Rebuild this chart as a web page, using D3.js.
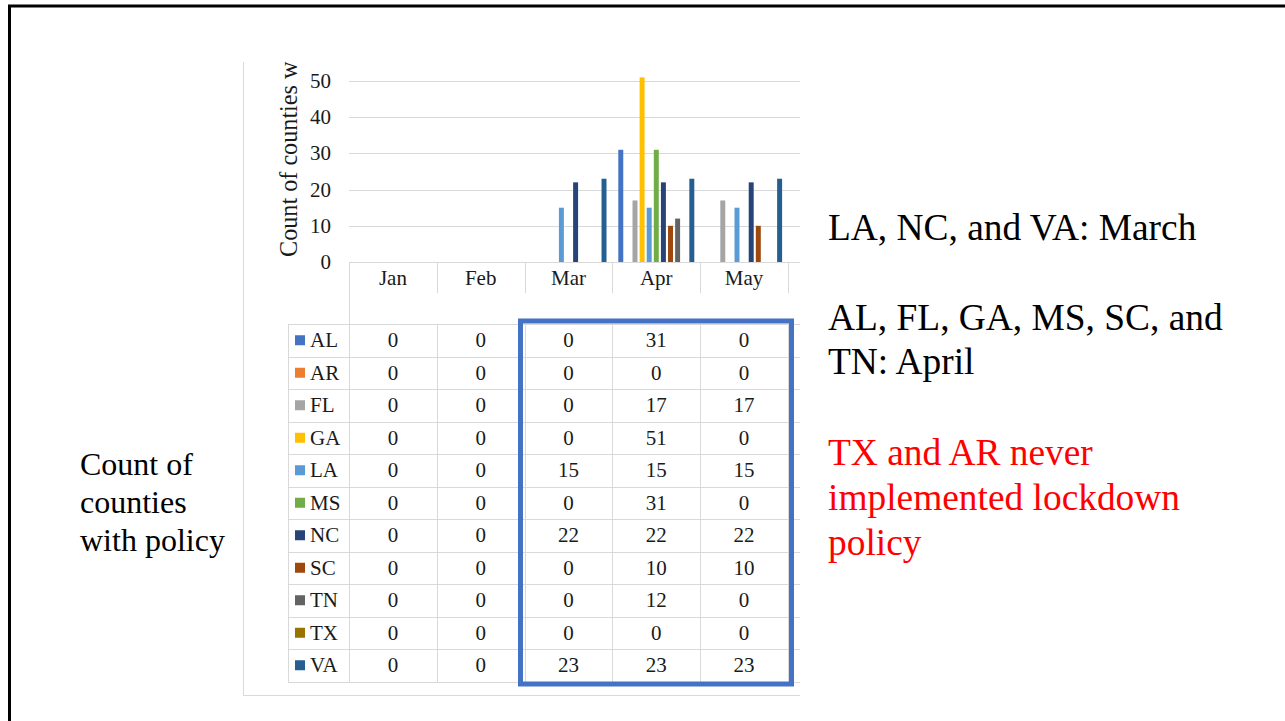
<!DOCTYPE html>
<html>
<head>
<meta charset="utf-8">
<script src="https://cdn.jsdelivr.net/npm/d3@7"></script>
<style>
  body { margin: 0; background: #fff; }
  svg { display: block; }
  text { font-family: "Liberation Serif", "Times New Roman", serif; }
</style>
</head>
<body>
<svg id="chart"></svg>
<script>
const months = ['Jan', 'Feb', 'Mar', 'Apr', 'May'];
const states = ['AL', 'AR', 'FL', 'GA', 'LA', 'MS', 'NC', 'SC', 'TN', 'TX', 'VA'];
// one row per state, one value per month
const stateCounts = [
  [0, 0, 0, 31, 0],
  [0, 0, 0, 0, 0],
  [0, 0, 0, 17, 17],
  [0, 0, 0, 51, 0],
  [0, 0, 15, 15, 15],
  [0, 0, 0, 31, 0],
  [0, 0, 22, 22, 22],
  [0, 0, 0, 10, 10],
  [0, 0, 0, 12, 0],
  [0, 0, 0, 0, 0],
  [0, 0, 23, 23, 23]
];
const stateColors = ['#4472C4', '#ED7D31', '#A5A5A5', '#FFC000', '#5B9BD5', '#70AD47',
  '#264478', '#9E480E', '#636363', '#997300', '#255E91'];
const yTicks = [0, 10, 20, 30, 40, 50];
const axisTitle = 'Count of counties w';
const leftNote = ['Count of', 'counties', 'with policy'];
const marchNote = ['LA, NC, and VA: March'];
const aprilNote = ['AL, FL, GA, MS, SC, and', 'TN: April'];
const neverNote = ['TX and AR never', 'implemented lockdown', 'policy'];

const width = 1285;
const height = 721;
const grid = '#d9d9d9';
const ink = '#1a1a1a';

const svg = d3.select('#chart')
  .attr('width', width)
  .attr('height', height);

// slide frame
svg.append('rect')
  .attr('x', 9.5).attr('y', 6)
  .attr('width', width + 20).attr('height', height + 20)
  .attr('fill', 'none')
  .attr('stroke', '#000')
  .attr('stroke-width', 3);

// chart picture frame (left + bottom edge)
svg.append('path')
  .attr('d', 'M243.5,62 V695.5 H800')
  .attr('fill', 'none')
  .attr('stroke', grid);

const x0 = d3.scaleBand().domain(months).range([349, 788]);
const x1 = d3.scaleBand().domain(states).range([0, x0.bandwidth()])
  .paddingInner(0.3).paddingOuter(0.83);
const y = d3.scaleLinear().domain([0, 50]).range([262, 81]);
const rowY = d3.scaleBand().domain(states).range([324, 681.5]);

// gridlines
svg.append('g').selectAll('line').data(yTicks).join('line')
  .attr('x1', 349).attr('x2', 800)
  .attr('y1', d => Math.round(y(d)) + 0.5)
  .attr('y2', d => Math.round(y(d)) + 0.5)
  .attr('stroke', grid);

// y tick labels
svg.append('g').selectAll('text').data(yTicks).join('text')
  .attr('x', 331)
  .attr('y', d => y(d) + 7)
  .attr('text-anchor', 'end')
  .attr('font-size', 21)
  .attr('fill', ink)
  .text(d => d);

// axis title (cut off at the top in the original picture)
svg.append('text')
  .attr('transform', 'translate(297,257) rotate(-90)')
  .attr('font-size', 24.2)
  .attr('fill', ink)
  .text(axisTitle);

// bars
const groups = svg.append('g').selectAll('g').data(states).join('g')
  .attr('fill', (d, i) => stateColors[i]);

groups.selectAll('rect')
  .data((s, i) => stateCounts[i].map((v, m) => ({ state: s, month: months[m], value: v })))
  .join('rect')
  .attr('x', d => x0(d.month) + x1(d.state))
  .attr('width', x1.bandwidth())
  .attr('y', d => y(d.value))
  .attr('height', d => y(0) - y(d.value));

// category separators below the axis
const bounds = months.map(m => x0(m)).concat([x0.range()[1]]);
svg.append('g').selectAll('line').data(bounds).join('line')
  .attr('x1', d => Math.round(d) + 0.5).attr('x2', d => Math.round(d) + 0.5)
  .attr('y1', 262).attr('y2', (d, i) => i === 0 ? 682 : 293)
  .attr('stroke', grid);

svg.append('g').selectAll('text').data(months).join('text')
  .attr('x', d => x0(d) + x0.bandwidth() / 2)
  .attr('y', 285)
  .attr('text-anchor', 'middle')
  .attr('font-size', 21)
  .attr('fill', ink)
  .text(d => d);

// data table
const table = svg.append('g');
const rowEdges = states.map(s => rowY(s)).concat([rowY.range()[1]]);
table.selectAll('line.h').data(rowEdges).join('line')
  .attr('class', 'h')
  .attr('x1', 288).attr('x2', 800)
  .attr('y1', d => Math.round(d) + 0.5).attr('y2', d => Math.round(d) + 0.5)
  .attr('stroke', grid);

table.selectAll('line.v').data([288].concat(bounds)).join('line')
  .attr('class', 'v')
  .attr('x1', d => Math.round(d) + 0.5).attr('x2', d => Math.round(d) + 0.5)
  .attr('y1', 324).attr('y2', 682)
  .attr('stroke', grid);

const rows = table.selectAll('g.row').data(states).join('g')
  .attr('class', 'row')
  .attr('transform', d => `translate(0,${rowY(d)})`);

rows.append('rect')
  .attr('x', 295)
  .attr('y', rowY.bandwidth() / 2 - 5)
  .attr('width', 10).attr('height', 10)
  .attr('fill', (d, i) => stateColors[i]);

rows.append('text')
  .attr('x', 310)
  .attr('y', rowY.bandwidth() / 2 + 7)
  .attr('font-size', 21)
  .attr('fill', ink)
  .text(d => d);

rows.selectAll('text.val')
  .data((s, i) => stateCounts[i].map((v, m) => ({ month: months[m], value: v })))
  .join('text')
  .attr('class', 'val')
  .attr('x', d => x0(d.month) + x0.bandwidth() / 2)
  .attr('y', rowY.bandwidth() / 2 + 7)
  .attr('text-anchor', 'middle')
  .attr('font-size', 21)
  .attr('fill', ink)
  .text(d => d.value);

// highlight box around Mar-May
svg.append('rect')
  .attr('x', 520.5).attr('y', 321)
  .attr('width', x0.range()[1] - 520.5 + 3.5)
  .attr('height', 363)
  .attr('fill', 'none')
  .attr('stroke', '#4472C4')
  .attr('stroke-width', 5);

// slide notes
const note = (lines, x, y0, size, lh, color) => {
  svg.append('g').selectAll('text').data(lines).join('text')
    .attr('x', x)
    .attr('y', (d, i) => y0 + i * lh)
    .attr('font-size', size)
    .attr('fill', color)
    .text(d => d);
};
note(leftNote, 80, 475, 32, 38, '#000');
note(marchNote, 828, 240, 37.4, 44, '#000');
note(aprilNote, 828, 330, 37.4, 44, '#000');
note(neverNote, 828, 465, 37.4, 45, '#FF0000');
</script>
</body>
</html>
